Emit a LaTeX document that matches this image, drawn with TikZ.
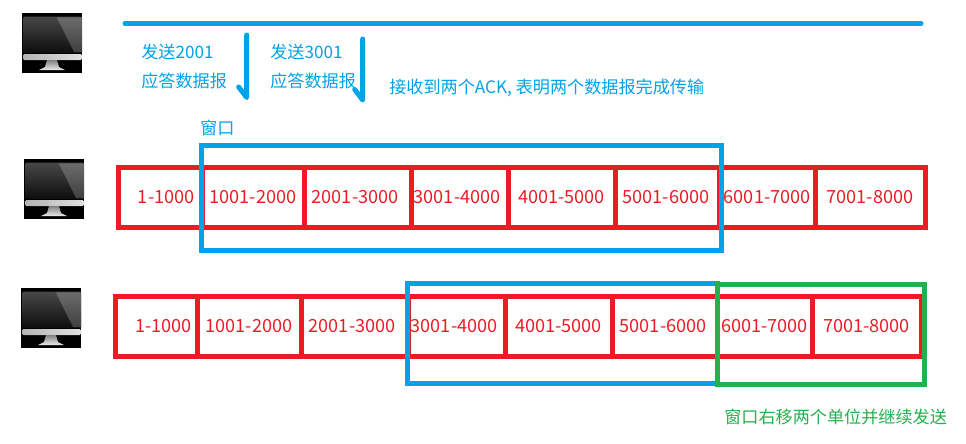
\documentclass[tikz,border=0pt]{standalone}
\usepackage{fontspec}
\setmainfont{Noto Sans CJK SC}
\usetikzlibrary{positioning}
\definecolor{winblue}{HTML}{00A2E8}
\definecolor{cellred}{HTML}{ED1C24}
\definecolor{wingreen}{HTML}{22B14C}
\def\px{0.75pt}

\begin{document}
\begin{tikzpicture}[x=0.75pt, y=-0.75pt,
        cell/.style={draw=cellred, rectangle, line width=5*\px, outer sep=0pt, inner sep=0pt, minimum height=59.5*\px, text=cellred, font=\fontsize{13.6}{15}\selectfont},
        window/.style={draw=#1, rectangle, line width=5*\px, outer sep=0pt, minimum height=105*\px},
        note/.style={text=winblue, anchor=west, inner sep=0pt, font=\fontsize{12.85}{15}\selectfont},
        flow/.style={draw=winblue, line width=5*\px, line cap=round, line join=round},
        monitor/.pic={
            \fill[black] (0,0) rectangle (60,60);
            \shade[top color=black!72, bottom color=black!95, rounded corners=1pt] (1,3.7) rectangle (60,40);
            \shade[top color=black!58, bottom color=black!75] (34.7,4.3) -- (60,4.3) -- (60,39) -- (52,39) -- cycle;
            \shade[left color=black!30, right color=black!12, rounded corners=1pt] (1,41) rectangle (60,47);
            \shade[top color=black!50, bottom color=black!8] (25,47) -- (35,47) -- (37,54) -- (43,57) -- (17,57) -- (23,54) -- cycle;
        }
    ]
        \useasboundingbox (0,0) rectangle (966,443);

        % Monitors
        \pic at (22,13) {monitor};
        \pic at (24,159) {monitor};
        \pic at (21,288) {monitor};

        % Top line and the two arrows
        \coordinate (lineStart) at (125,23.5);
        \coordinate (lineEnd) at (921,23.5);
        \draw[flow] (lineStart) -- (lineEnd);
        \coordinate (ackA) at (246.7,35);
        \coordinate (ackB) at (246.7,97.5);
        \coordinate (ackC) at (362.7,39);
        \coordinate (ackD) at (362.7,100);
        \draw[flow] (ackA) -- (ackB) -- ++(-8,-10.5);
        \draw[flow] (ackC) -- (ackD) -- ++(-8,-10.5);

        % Notes
        \node[note] (send1) at (141,52) {发送2001};
        \node[note] (reply1) at (141,81) {应答数据报};
        \node[note] (send2) at (270,52) {发送3001};
        \node[note] (reply2) at (270,81) {应答数据报};
        \node[note] (done) at (389,88) {接收到两个ACK, 表明两个数据报完成传输};
        \node[note] (winlabel) at (200,127.5) {窗口};
        \node[note, text=wingreen] (moved) at (724,417) {窗口右移两个单位并继续发送};

        % First row
        \node[cell, minimum width=83.5*\px] (a1) at (160.25,197.25) {\hspace*{9pt}1-1000};
        \node[cell, minimum width=102*\px, right=0pt of a1] (a2) {1001-2000};
        \node[cell, minimum width=107*\px, right=0pt of a2] (a3) {2001-3000\hspace*{3.5pt}};
        \node[cell, minimum width=97*\px, right=0pt of a3] (a4) {3001-4000\hspace*{3.5pt}};
        \node[cell, minimum width=107*\px, right=0pt of a4] (a5) {4001-5000};
        \node[cell, minimum width=104.5*\px, right=0pt of a5] (a6) {5001-6000\hspace*{2pt}};
        \node[cell, minimum width=95.5*\px, right=0pt of a6] (a7) {6001-7000};
        \node[cell, minimum width=110*\px, right=0pt of a7] (a8) {7001-8000};

        % Second row
        \node[cell, minimum width=81.5*\px] (b1) at (156.25,326.25) {\hspace*{11pt}1-1000};
        \node[cell, minimum width=104*\px, right=0pt of b1] (b2) {1001-2000};
        \node[cell, minimum width=107*\px, right=0pt of b2] (b3) {2001-3000\hspace*{3.5pt}};
        \node[cell, minimum width=97*\px, right=0pt of b3] (b4) {3001-4000\hspace*{3.5pt}};
        \node[cell, minimum width=107*\px, right=0pt of b4] (b5) {4001-5000};
        \node[cell, minimum width=105*\px, right=0pt of b5] (b6) {5001-6000\hspace*{2pt}};
        \node[cell, minimum width=95*\px, right=0pt of b6] (b7) {6001-7000};
        \node[cell, minimum width=109*\px, right=0pt of b7] (b8) {7001-8000};

        % Windows
        \node[window=winblue, minimum width=520*\px] (win1) at (461.5,198) {};
        \node[window=winblue, minimum width=310*\px, minimum height=100*\px] (win2) at (562.5,333.5) {};
        \node[window=wingreen, minimum width=207.5*\px, minimum height=100*\px] (win3) at (820.75,334.5) {};
    \end{tikzpicture}
\end{document}
